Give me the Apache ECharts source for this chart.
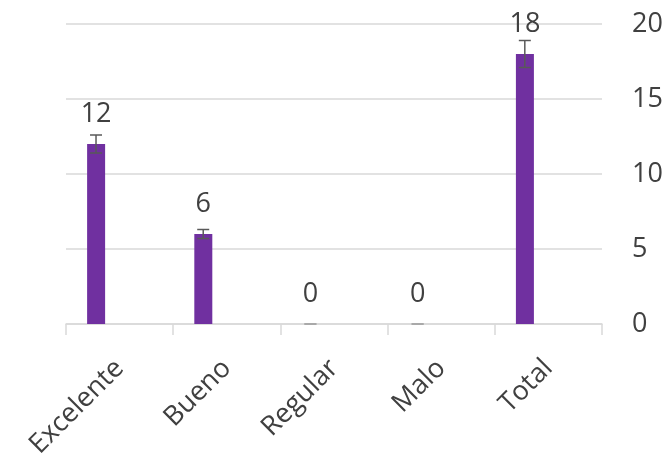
<!DOCTYPE html>
<html>
<head>
<meta charset="utf-8">
<script src="https://cdn.jsdelivr.net/npm/echarts@6/dist/echarts.min.js"></script>
<style>
    html, body { margin: 0; padding: 0; background: #fff; }
    #chart { width: 667px; height: 459px; }
</style>
</head>
<body>
<div id="chart"></div>
<script>
    // datos del gráfico
    const categories = ['Excelente', 'Bueno', 'Regular', 'Malo', 'Total'];
    const values = [12, 6, 0, 0, 18];
    const errors = [0.6, 0.3, 0, 0, 0.9];
    const yTicks = { min: 0, max: 20, interval: 5 };

    const textColor = '#404040';
    const gridColor = '#d9d9d9';
    const font = '"Open Sans", sans-serif';

    let myChart = echarts.init(document.getElementById('chart'));

    let option = {
        animation: false,
        grid: {
            left: 66,
            right: 65,
            top: 24,
            bottom: 135,
            outerBoundsMode: 'none'
        },
        xAxis: {
            type: 'category',
            data: categories,
            axisLine: { lineStyle: { color: gridColor, width: 1.5 } },
            axisTick: { show: true, length: 11, lineStyle: { color: gridColor, width: 1.5 } },
            axisLabel: {
                rotate: 45,
                margin: 40,
                color: textColor,
                fontSize: 27,
                fontFamily: font
            }
        },
        yAxis: {
            type: 'value',
            position: 'right',
            min: yTicks.min,
            max: yTicks.max,
            interval: yTicks.interval,
            axisLine: { show: false },
            axisTick: { show: false },
            axisLabel: {
                margin: 30,
                color: textColor,
                fontSize: 27,
                fontFamily: font
            },
            splitLine: { lineStyle: { color: gridColor, width: 1.5 } }
        },
        series: [
            {
                type: 'bar',
                data: values,
                barWidth: 18,
                barGap: '161%',
                itemStyle: { color: '#7030a0' },
                label: {
                    show: true,
                    position: 'top',
                    distance: 16,
                    color: textColor,
                    fontSize: 27,
                    fontFamily: font
                },
                z: 2
            },
            {
                // serie vacía, deja el hueco a la derecha como en Excel
                type: 'bar',
                data: categories.map(() => '-'),
                barWidth: 18
            },
            {
                type: 'custom',
                data: values.map((v, i) => [i, v - errors[i], v + errors[i]]),
                renderItem: function (params, api) {
                    let band = api.size([1, 0])[0];
                    let off = -band * 0.22;
                    let lo = api.coord([api.value(0), api.value(1)]);
                    let hi = api.coord([api.value(0), api.value(2)]);
                    let x = lo[0] + off;
                    let cap = 6;
                    let zero = api.value(1) === api.value(2);
                    let style = { stroke: zero ? '#a6a6a6' : '#595959', lineWidth: 1.5 };
                    return {
                        type: 'group',
                        children: [
                            { type: 'line', shape: { x1: x, y1: lo[1], x2: x, y2: hi[1] }, style: style },
                            { type: 'line', shape: { x1: x - cap, y1: lo[1], x2: x + cap, y2: lo[1] }, style: style },
                            { type: 'line', shape: { x1: x - cap, y1: hi[1], x2: x + cap, y2: hi[1] }, style: style }
                        ]
                    };
                },
                z: 3
            }
        ]
    };

    myChart.setOption(option);
</script>
</body>
</html>
